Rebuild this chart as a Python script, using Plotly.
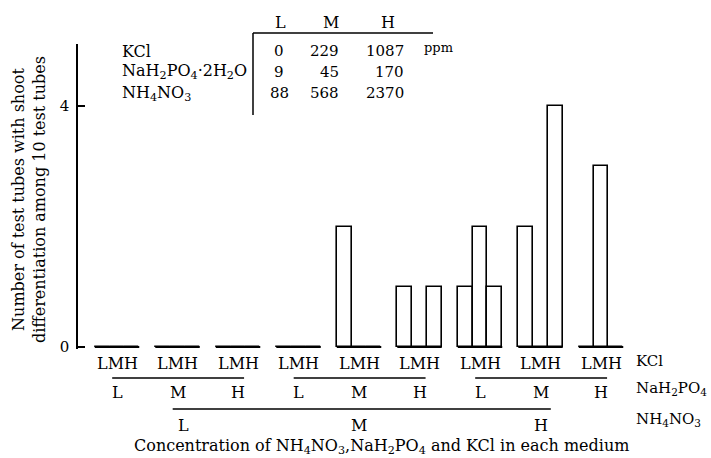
import plotly.graph_objects as go

# ---------------- data ----------------
kcl_levels = ["L", "M", "H"]
nah_levels = ["L", "M", "H"]
nh4_levels = ["L", "M", "H"]
# shoots per group (NH4NO3 level x NaH2PO4 level), values for KCl L, M, H
shoots = [
    [0, 0, 0], [0, 0, 0], [0, 0, 0],   # NH4NO3 L : NaH2PO4 L, M, H
    [0, 0, 0], [2, 0, 0], [1, 0, 1],   # NH4NO3 M
    [1, 2, 1], [2, 0, 4], [0, 3, 0],   # NH4NO3 H
]
kcl_ppm = [0, 229, 1087]
nah_ppm = [9, 45, 170]
nh4_ppm = [88, 568, 2370]
y_ticks = [0, 4]

# ---------------- layout constants ----------------
W, H = 711, 458
PL, PR, PT, PB = 78, 700, 44, 349          # plot area in page pixels
ML, MR, MT, MB = PL, W - PR, PT, H - PB
X_RANGE = [0.355, 10.636]
Y_RANGE = [-0.033, 5.03]
BAR_W = 0.245
FONT = "DejaVu Serif"
FS = 15
FS_L = 16
INK = "black"


def px(xp):  # page pixel x -> paper
    return (xp - PL) / (PR - PL)


def py(yp):  # page pixel y -> paper
    return (PB - yp) / (PB - PT)


def xd(x):  # data x -> paper
    return (x - X_RANGE[0]) / (X_RANGE[1] - X_RANGE[0])


n_na = len(nah_levels)
groups = list(range(1, len(shoots) + 1))

bar_x, bar_y = [], []
base_x, base_y = [], []
for g, vals in zip(groups, shoots):
    for k, v in enumerate(vals):
        bar_x.append(g + (k - 1) * BAR_W)
        bar_y.append(v)
    base_x += [g - 1.5 * BAR_W, g + 1.5 * BAR_W, None]
    base_y += [0, 0, None]

fig = go.Figure()
fig.add_trace(go.Bar(
    x=bar_x, y=bar_y, width=BAR_W,
    marker=dict(color="white", line=dict(color=INK, width=1.6)),
    showlegend=False, hoverinfo="skip",
))
fig.add_trace(go.Scatter(
    x=base_x, y=base_y, mode="lines",
    line=dict(color=INK, width=2), showlegend=False, hoverinfo="skip",
))

ann = []
shapes = []


def text(x, y, s, xanchor="center", size=FS, **kw):
    ann.append(dict(x=x, y=y, xref="paper", yref="paper", text=s, showarrow=False,
                    xanchor=xanchor, yanchor="middle",
                    font=dict(family=FONT, size=size, color=INK), **kw))


def line(x0, y0, x1, y1, w=1.5):
    shapes.append(dict(type="line", xref="paper", yref="paper",
                       x0=x0, y0=y0, x1=x1, y1=y1,
                       line=dict(color=INK, width=w)))


# KCl row
for g in groups:
    text(xd(g), py(363), "".join(kcl_levels), size=FS_L)
text(px(634), py(361), "KCl", xanchor="left", size=FS)

# NaH2PO4 row
for g in groups:
    text(xd(g), py(392), nah_levels[(g - 1) % n_na], size=FS_L)
for i in range(len(nh4_levels)):
    g0 = i * n_na + 1
    g1 = g0 + n_na - 1
    line(xd(g0 - 0.08), py(378), xd(g1 + 0.1), py(378))
text(px(634), py(388), "NaH<sub>2</sub>PO<sub>4</sub>", xanchor="left", size=FS)

# NH4NO3 row
mids = [i * n_na + 2 for i in range(len(nh4_levels))]
for lev, g in zip(nh4_levels, mids):
    text(xd(g) + (px(186) - px(180) if lev == "L" else 0), py(425), lev, size=FS_L)
line(xd(mids[0] - 0.08), py(409), xd(mids[-1] + 0.17), py(409))
text(px(634), py(419), "NH<sub>4</sub>NO<sub>3</sub>", xanchor="left", size=FS)

# x title
text(px(381), py(446),
     "Concentration of NH<sub>4</sub>NO<sub>3</sub>,NaH<sub>2</sub>PO<sub>4</sub> and KCl in each medium",
     size=FS_L)

# y title
text(px(29), py(200),
     "Number of test tubes with shoot<br>differentiation among 10 test tubes",
     textangle=-90, size=FS_L)

# concentration table
for lev, xp in zip(kcl_levels, [280, 331, 388]):
    text(px(xp), py(22), lev, size=FS_L)
line(px(253), py(33), px(433), py(33))
line(px(253), py(33), px(253), py(115))
row_names = ["KCl", "NaH<sub>2</sub>PO<sub>4</sub>·2H<sub>2</sub>O", "NH<sub>4</sub>NO<sub>3</sub>"]
rows = [kcl_ppm, nah_ppm, nh4_ppm]
for name, vals, yp in zip(row_names, rows, [51, 72, 93]):
    text(px(120), py(yp), name, xanchor="left", size=FS_L)
    text(px(279), py(yp), str(vals[0]))
    text(px(341), py(yp), str(vals[1]), xanchor="right")
    text(px(406), py(yp), str(vals[2]), xanchor="right")
text(px(422), py(47), "ppm", xanchor="left", size=13)

fig.update_layout(
    width=W, height=H,
    margin=dict(l=ML, r=MR, t=MT, b=MB, pad=0),
    paper_bgcolor="white", plot_bgcolor="white",
    font=dict(family=FONT, size=FS, color=INK),
    xaxis=dict(range=X_RANGE, showgrid=False, zeroline=False, showline=False,
               showticklabels=False, ticks=""),
    yaxis=dict(range=Y_RANGE, showgrid=False, zeroline=False, showline=True,
               linecolor=INK, linewidth=1.5, tickvals=y_ticks, ticks="inside",
               ticklen=7, tickwidth=1.5, tickcolor=INK, ticklabelstandoff=4,
               tickfont=dict(family=FONT, size=FS, color=INK)),
    annotations=ann, shapes=shapes,
    bargap=0,
)

fig.write_html(
    "out.html",
    config={"displayModeBar": False},
    post_script="document.body.style.margin='0px';document.body.style.overflow='hidden';",
)
